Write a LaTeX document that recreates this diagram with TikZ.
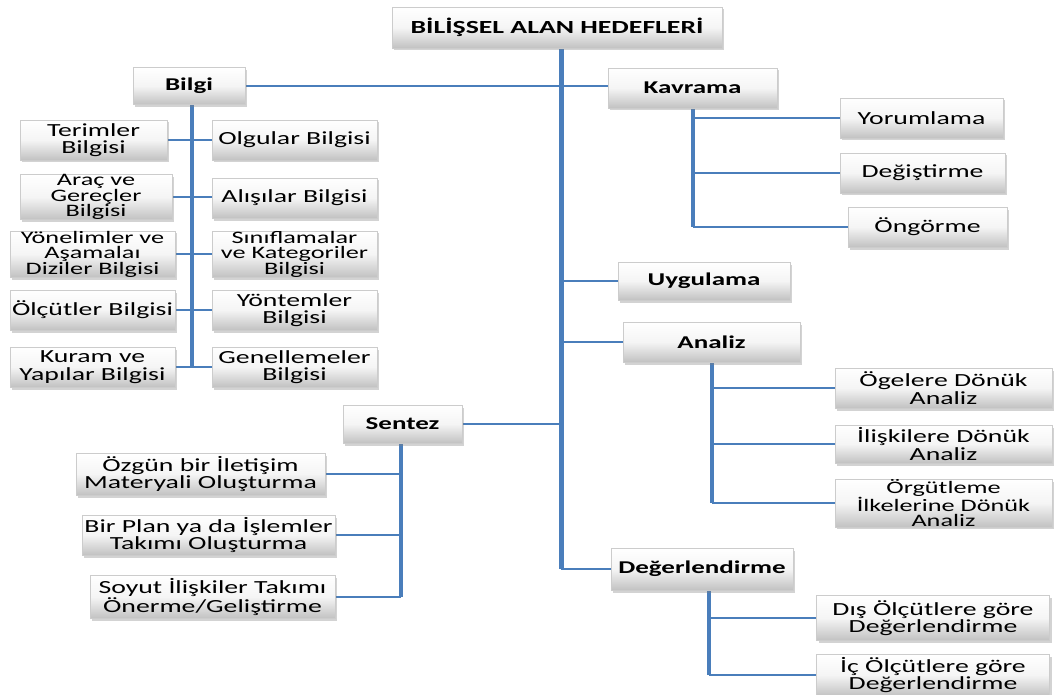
\documentclass[tikz,border=0pt]{standalone}
\usepackage{fontspec}
\usetikzlibrary{shadows,backgrounds}
\newfontfamily\carfont[FakeStretch=1.5]{Carlito}
\definecolor{linkblue}{RGB}{74,126,187}
\tikzset{
  box/.style={rectangle, draw=black!20, line width=0.6pt, top color=white, bottom color=black!24,
    middle color=black!4,
    drop shadow={shadow xshift=2pt, shadow yshift=-2.5pt, opacity=0.35},
    inner sep=0pt, align=center, text=black},
  leaf/.style={box, font=\carfont\fontsize{18.5}{17.5}\selectfont},
  leafthree/.style={box, font=\carfont\fontsize{17.5}{15.5}\selectfont},
  head/.style={box, font=\carfont\bfseries\fontsize{18}{18}\selectfont},
  trunk/.style={draw=linkblue, line width=5pt},
  vline/.style={draw=linkblue, line width=4pt},
  hline/.style={draw=linkblue, line width=2pt},
}
\begin{document}
\begin{tikzpicture}[x=1pt,y=-1pt]
\useasboundingbox (0,0) rectangle (1054,695);
% headers
\node[head, font=\carfont\bfseries\fontsize{18.5}{18.5}\selectfont, minimum width=330, minimum height=41] (title) at (557,27.5) {BİLİŞSEL ALAN HEDEFLERİ};
\node[head, minimum width=112, minimum height=37] (bilgi) at (189,86) {Bilgi};
\node[head, minimum width=169, minimum height=40] (kavrama) at (692.5,88) {Kavrama};
\node[head, minimum width=172, minimum height=38] (uygulama) at (704,281) {Uygulama};
\node[head, minimum width=177, minimum height=40] (analiz) at (711.5,342) {Analiz};
\node[head, minimum width=119, minimum height=38] (sentez) at (402.5,424) {Sentez};
\node[head, minimum width=182, minimum height=42] (deger) at (702,569) {Değerlendirme};
% Bilgi children
\node[leaf, minimum width=147, minimum height=40] (terimler) at (93.5,140) {Terimler\\Bilgisi};
\node[leaf, minimum width=165, minimum height=40] (olgular) at (294.5,140) {Olgular Bilgisi};
\node[leafthree, minimum width=152, minimum height=42] (arac) at (96,197) {Araç ve\\Gereçler\\Bilgisi};
\node[leaf, minimum width=165, minimum height=40] (alisilar) at (294.5,198) {Alışılar Bilgisi};
\node[leafthree, minimum width=165, minimum height=42] (yonelim) at (92.5,254) {Yönelimler ve\\Aşamalaı\\Diziler Bilgisi};
\node[leafthree, minimum width=165, minimum height=42] (sinif) at (294.5,254) {Sınıflamalar\\ve Kategoriler\\Bilgisi};
\node[leaf, minimum width=165, minimum height=40] (olcut) at (92.5,310) {Ölçütler Bilgisi};
\node[leaf, minimum width=165, minimum height=40] (yontem) at (294.5,310) {Yöntemler\\Bilgisi};
\node[leaf, minimum width=165, minimum height=40] (kuram) at (92.5,367) {Kuram ve\\Yapılar Bilgisi};
\node[leaf, minimum width=165, minimum height=40] (genel) at (294.5,367) {Genellemeler\\Bilgisi};
% Kavrama children
\node[leaf, minimum width=163, minimum height=40] (yorum) at (921.5,118) {Yorumlama};
\node[leaf, minimum width=165, minimum height=40] (degis) at (922.5,173) {Değiştirme};
\node[leaf, minimum width=159, minimum height=40] (ongor) at (927.5,227) {Öngörme};
% Analiz children
\node[leaf, minimum width=217, minimum height=40] (ogele) at (943.5,388) {Ögelere Dönük\\Analiz};
\node[leaf, minimum width=217, minimum height=38] (iliski) at (943.5,444) {İlişkilere Dönük\\Analiz};
\node[leafthree, minimum width=217, minimum height=45] (orgut) at (943.5,503) {Örgütleme\\İlkelerine Dönük\\Analiz};
% Sentez children
\node[leaf, minimum width=249, minimum height=42] (ozgun) at (200.5,474) {Özgün bir İletişim\\Materyali Oluşturma};
\node[leaf, minimum width=253, minimum height=40] (plan) at (208.5,535) {Bir Plan ya da İşlemler\\Takımı Oluşturma};
\node[leaf, minimum width=245, minimum height=43] (soyut) at (212.5,597) {Soyut İlişkiler Takımı\\Önerme/Geliştirme};
% Degerlendirme children
\node[leaf, minimum width=233, minimum height=45] (dis) at (933,618) {Dış Ölçütlere göre\\Değerlendirme};
\node[leaf, minimum width=233, minimum height=42] (ic) at (933,675) {İç Ölçütlere göre\\Değerlendirme};
% connector junctions
\coordinate (tt) at (561,48);
\coordinate (bv) at (192,104);
\coordinate (kv) at (693,108);
\coordinate (av) at (712,362);
\coordinate (sv) at (401,443);
\coordinate (dv) at (709,590);
\begin{scope}[on background layer]
\draw[trunk] (tt) -- (tt |- deger.west);
\draw[hline] (bilgi.east) -- (bilgi.east -| kavrama.west);
\draw[hline] (tt |- uygulama.west) -- (uygulama.west);
\draw[hline] (tt |- analiz.west) -- (analiz.west);
\draw[hline] (sentez.east) -- (sentez.east -| tt);
\draw[hline] (tt |- deger.west) -- (deger.west);
% Bilgi
\draw[vline] (bv) -- (bv |- kuram.east);
\draw[hline] (terimler.east) -- (terimler.east -| olgular.west);
\draw[hline] (arac.east) -- (arac.east -| alisilar.west);
\draw[hline] (yonelim.east) -- (yonelim.east -| sinif.west);
\draw[hline] (olcut.east) -- (olcut.east -| yontem.west);
\draw[hline] (kuram.east) -- (kuram.east -| genel.west);
% Kavrama
\draw[vline] (kv) -- (kv |- ongor.west);
\draw[hline] (kv |- yorum.west) -- (yorum.west);
\draw[hline] (kv |- degis.west) -- (degis.west);
\draw[hline] (kv |- ongor.west) -- (ongor.west);
% Analiz
\draw[vline] (av) -- (av |- orgut.west);
\draw[hline] (av |- ogele.west) -- (ogele.west);
\draw[hline] (av |- iliski.west) -- (iliski.west);
\draw[hline] (av |- orgut.west) -- (orgut.west);
% Sentez
\draw[vline] (sv) -- (sv |- soyut.east);
\draw[hline] (ozgun.east) -- (ozgun.east -| sv);
\draw[hline] (plan.east) -- (plan.east -| sv);
\draw[hline] (soyut.east) -- (soyut.east -| sv);
% Degerlendirme
\draw[vline] (dv) -- (dv |- ic.west);
\draw[hline] (dv |- dis.west) -- (dis.west);
\draw[hline] (dv |- ic.west) -- (ic.west);
\end{scope}
\end{tikzpicture}
\end{document}
